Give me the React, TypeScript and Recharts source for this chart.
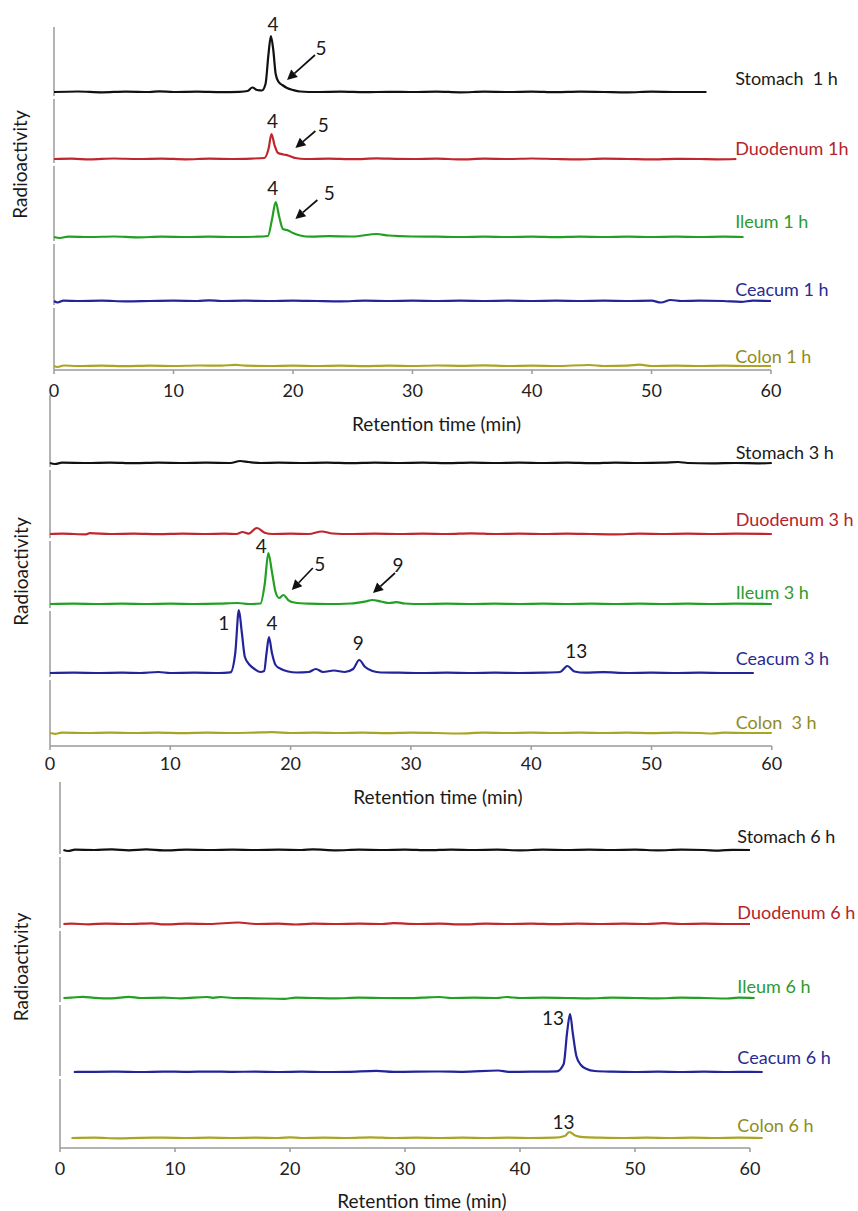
import { Line, LineChart, ReferenceDot, ReferenceLine, XAxis, YAxis } from "recharts";

type Pt = [number, number];

const timeTicks = [0, 10, 20, 30, 40, 50, 60];

// ---- 1 h (signal above each trace's own baseline) ----
const stomach1h: Pt[] = [[0,0],[2,0.5],[4,-0.3],[6,0.4],[8,0],[8.8,0.6],[10,0],[12,0.3],[14,-0.2],[15.5,0.2],[16.2,1],[16.6,4.5],[17,2],[17.4,1.5],[17.7,8],[17.95,38],[18.15,56],[18.35,42],[18.55,18],[18.8,10],[19.1,7],[19.5,4],[20,2],[20.6,0.5],[22,0],[24,0.3],[26,-0.2],[28,0.2],[30,0],[32,0.4],[34,-0.3],[36,0.3],[38,0],[40,0.4],[42,-0.2],[44,0.3],[46,0],[48,-0.3],[50,0.3],[52,0],[54.6,0]];
const duodenum1h: Pt[] = [[0,0],[1.5,0.3],[3,-0.4],[5,0.5],[7,0],[9,0.4],[11,-0.3],[13,0.3],[15,0],[16.5,0.4],[17.6,1],[17.95,10],[18.2,25],[18.45,14],[18.75,6],[19.2,4.5],[19.6,3.5],[20.2,1],[21,0],[23,0.4],[25,-0.2],[27,0.6],[28,0.3],[30,0],[32,0.4],[34,-0.4],[36,0.3],[38,0],[40,0.5],[42,0],[44,-0.3],[46,0.3],[48,0],[50,-0.4],[52,0.2],[54,0],[55.5,-0.3],[57.1,0]];
const ileum1h: Pt[] = [[0,0],[0.5,-1],[1.2,0.4],[3,0],[5,0.5],[7,-0.3],[9,0.3],[11,0],[13,0.4],[15,0],[17,0.3],[17.9,1],[18.25,18],[18.55,35],[18.85,20],[19.15,8],[19.6,6.5],[20,4],[20.6,1.5],[21.5,0.3],[23,0.8],[25,0.5],[27,3],[28,1.5],[30,0.5],[32,0.3],[34,0],[36,0.4],[38,0],[40,0.3],[42,-0.2],[44,0.3],[46,0],[48,0.4],[50,0],[52,0.3],[54,0],[56,0.4],[57.7,0]];
const ceacum1h: Pt[] = [[0,0],[0.3,-1.5],[0.8,0.3],[2,0],[4,0.3],[6,-0.3],[8,0],[10,0.3],[12,0],[13,0.6],[14,0],[16,0.3],[18,0],[20,0.4],[22,0],[24,-0.3],[26,0.3],[28,0],[30,0.3],[32,0],[34,0.3],[36,0],[38,0.3],[40,0],[42,0.3],[44,0],[46,0.3],[48,0],[50,0.3],[50.8,-1.5],[51.6,1],[52.5,0],[54,0.3],[56,0],[57.5,-0.8],[58.5,0.3],[60,0]];
const colon1h: Pt[] = [[0,0],[0.3,-1],[0.8,0.5],[2,0],[4,0.4],[6,-0.2],[8,0.3],[10,0],[12,0.5],[14,0.3],[15.2,1.2],[16,0.3],[18,0],[20,0.4],[22,0],[24,0.3],[26,-0.2],[28,0.3],[30,0],[32,0.5],[34,0.2],[36,0.6],[38,0],[40,0.3],[42,0],[44.8,1],[46,0],[48,0.3],[49,1.3],[50,0],[52,0.3],[54,0],[56,0.3],[58,0],[60,0]];

// ---- 3 h ----
const stomach3h: Pt[] = [[0,0],[0.4,-1],[1,0.3],[3,0],[5,0.4],[7,-0.2],[9,0.3],[11,0],[13,0.3],[15,0],[15.8,2],[16.5,1],[17.5,0],[19,0.3],[21,0],[23,0.3],[25,-0.2],[27,0.3],[29,0],[31,0.3],[33,-0.2],[35,0.3],[37,0],[39,0.4],[41,0],[43,0.3],[45,-0.2],[47,0.4],[49,0],[51,0.3],[52.2,1],[53,0],[55,-0.4],[57,0],[59,-0.3],[60,0]];
const duodenum3h: Pt[] = [[0,0],[1,0.3],[3,-0.3],[3.3,0.8],[5,0],[7,0.3],[9,-0.2],[11,0.3],[13,0],[14.5,0.3],[15.5,0],[16,2],[16.5,0.3],[17.2,6],[17.9,1],[18.5,0],[20,0.3],[21.5,0],[22.6,2.5],[23.5,0.5],[25,0],[27,0.3],[29,0],[31,0.4],[33,0],[35,0.6],[37,0],[39,0.3],[41,0],[43,0.4],[45,0],[47,-0.3],[49,0.3],[51,0],[53,0.3],[55,0],[57,0.3],[60,0]];
const ileum3h: Pt[] = [[0,0],[2,0.3],[4,0],[6,0.3],[8,0],[10,0.3],[12,0],[14,0.3],[15.6,1],[16.5,0],[17.5,0.5],[17.85,20],[18.15,51],[18.45,32],[18.75,12],[19.05,6],[19.4,9],[19.8,4],[20.3,1.5],[21.5,0.3],[23,0],[25,0.5],[26.2,2.5],[26.8,4],[27.5,2.5],[28.2,1],[28.8,1.8],[29.5,0.5],[31,0],[33,0.3],[35,0],[37,0.3],[39,0],[41,0.3],[43,0],[45,0.3],[47,0],[49,0.3],[51,0],[53,0.3],[55,0],[57,0.3],[60,0]];
const ceacum3h: Pt[] = [[0,0],[2,0.3],[4,0],[6,0.3],[7.5,0],[9,1],[10,0],[12,0.3],[14,0],[15,0.6],[15.4,20],[15.7,63],[15.95,40],[16.2,16],[16.6,8],[17,4],[17.5,1],[17.8,2],[18,20],[18.2,36],[18.45,20],[18.75,8],[19.2,4],[19.8,1.5],[20.5,0.5],[21.5,1],[22.1,4],[22.7,1],[23.6,2.5],[24.5,1],[25.2,4],[25.7,13],[26.2,6],[26.8,2],[27.5,0.5],[29,0.3],[31,0],[33,0.3],[35,0],[37,0.3],[39,0],[41,0.3],[42.4,1],[43,7],[43.6,1.5],[44.5,0.3],[46,0.8],[48,0],[50,0.3],[52,0],[54,0.3],[56,0],[58.5,0]];
const colon3h: Pt[] = [[0,0],[0.4,-0.8],[1,0.3],[3,0],[5,0.4],[7,0],[9,0.3],[11,-0.2],[13,0.3],[15,0],[17,0.4],[18.5,0.8],[20,0],[22,0.3],[24,0],[26,0.3],[28,-0.2],[30,0.3],[32,0],[34,-0.5],[36,0.3],[38,0],[40,0.4],[42,0],[44,0.3],[46,0],[48,0.3],[50,-0.2],[52,0.3],[54,0],[55,-0.5],[56,0.3],[58,0],[60,0]];

// ---- 6 h ----
const stomach6h: Pt[] = [[0.3,0],[0.7,-1],[1.3,0.3],[3,0],[4.5,0.6],[6,-0.3],[7.5,0.6],[9,-0.4],[11,0.3],[13,0],[15,0.4],[17,0],[19,0.3],[21,0],[22,0.6],[24,-0.3],[26,0.3],[28,0],[30,0.4],[32,-0.2],[34,0.4],[36,0],[38,0.3],[40,-0.3],[42,0.3],[44,0],[46,0.4],[48,0],[50,0.3],[52,-0.3],[54,0.3],[56,0],[57.3,-0.6],[58.5,0.2],[60,0]];
const duodenum6h: Pt[] = [[0.3,0],[1,0.3],[2.5,-0.3],[4,0.4],[6,0],[8,0.7],[9,-0.4],[11,0.3],[13,0],[15.5,1.5],[17,0],[19,0.3],[20.5,-0.5],[22,0.3],[24,0],[26,0.3],[28,0],[29,0.8],[31,0],[33,0.3],[35,-0.4],[37,0.3],[39,0],[41,0.3],[43,-0.2],[45,0.3],[47,0],[49,0.3],[51,0],[52.5,0.8],[54,0],[56,0.3],[58,0],[60,0]];
const ileum6h: Pt[] = [[0.3,0],[1,0.4],[2,1.2],[3,0.2],[4.5,-0.3],[6,1.2],[7,0],[9,0.3],[10.5,-0.3],[12.8,1],[13.3,0.2],[14,1],[15,0],[17,-0.3],[19.5,-0.8],[20.5,0.3],[22,0],[24,-0.3],[26,0.3],[28,0],[30,-0.2],[31.5,0.3],[33,1],[34,0],[36,0.3],[38,0],[38.8,1],[40,0],[42,0.3],[44,0],[46,-0.3],[48,0.3],[50,0],[52,-0.3],[54,0.3],[56,0],[58,-0.5],[59,0.3],[60.4,0]];
const ceacum6h: Pt[] = [[1.2,0],[3,0.2],[5,0.4],[7,0],[9,0.4],[11,0.2],[13,0.4],[15,0.2],[17,0.3],[19,0],[21,0.3],[23,0],[25,0.2],[27.5,1.2],[29,0.2],[31,0.3],[33,0.5],[35,0.2],[38.1,1.5],[39,0.2],[41,0.3],[43.2,0.6],[43.8,8],[44.1,40],[44.35,58],[44.6,38],[44.9,16],[45.3,7],[45.8,3],[46.5,1],[48,0.3],[50,0],[52,0.3],[54,0],[56,0.3],[58,0],[60,0.2],[61.1,0]];
const colon6h: Pt[] = [[1,0],[3,0.3],[5,-0.3],[7,0.2],[9,0.3],[11,0],[13,0.3],[15,0],[17,0.3],[19,0],[20,0.6],[21,0],[23,0.3],[25,0],[27,0.6],[29,0],[31,0.3],[33,0],[35,0.3],[37,0],[39,0.3],[41,0],[43,0.3],[43.9,2],[44.3,6],[44.8,2.5],[45.5,0.8],[47,0.3],[49,0],[51,0.3],[53,0],[55,0.3],[57,0],[59,0.3],[61.1,0]];

const labels1h = ["Stomach  1 h", "Duodenum 1h", "Ileum 1 h", "Ceacum 1 h", "Colon 1 h"];
const labels3h = ["Stomach 3 h", "Duodenum 3 h", "Ileum 3 h", "Ceacum 3 h", "Colon  3 h"];
const labels6h = ["Stomach 6 h", "Duodenum 6 h", "Ileum 6 h", "Ceacum 6 h", "Colon 6 h"];

// peak numbers: [trace, retention time, compound]
const peaks1h: [number, number, string][] = [[0, 18.15, "4"], [1, 18.2, "4"], [2, 18.55, "4"]];
const peaks3h: [number, number, string][] = [[2, 18.15, "4"], [3, 15.7, "1"], [3, 18.2, "4"], [3, 25.7, "9"], [3, 43, "13"]];
const peaks6h: [number, number, string][] = [[3, 44.35, "13"], [4, 44.3, "13"]];

// arrows: [trace, retention time of tip, compound]
const arrows1h: [number, number, string][] = [[0, 19.5, "5"], [1, 20.2, "5"], [2, 20.2, "5"]];
const arrows3h: [number, number, string][] = [[2, 20.1, "5"], [2, 26.85, "9"]];

const lineColors = ["#111111", "#c0262d", "#22a022", "#23239a", "#aaa425"];
const labelColors = ["#1a1a1a", "#b3242b", "#2e9a2e", "#2b2b8f", "#8f8c1c"];
const FONT = "Lato, 'Open Sans', sans-serif";

type PanelCfg = {
  series: Pt[][];
  labels: string[];
  peaks: [number, number, string][];
  peakOffsets: [number, number][];
  arrows: [number, number, string][];
  arrowLayout: [number, number, number, number, number][]; // lift, tail dx, tail dy, label dx, label dy
  chartTop: number;
  plotTop: number;
  plotBottom: number;
  left: number;
  pxPerMin: number;
  xMax: number;
  chartHeight: number;
  baselines: number[];
  labelT: number;
  labelLift: number[];
  radio: [number, number];
  title: [number, number];
  tickMargin: number;
};

const panels: PanelCfg[] = [
  {
    series: [stomach1h, duodenum1h, ileum1h, ceacum1h, colon1h],
    labels: labels1h,
    peaks: peaks1h,
    peakOffsets: [[2, -12], [1, -13], [-3, -14]],
    arrows: arrows1h,
    arrowLayout: [[12, 28, -25, 6, -7], [11, 20, -17, 8, -6], [18, 22, -19, 12, -7]],
    chartTop: 0, plotTop: 27, plotBottom: 370, left: 54, pxPerMin: 11.95, xMax: 60, chartHeight: 440,
    baselines: [278, 211, 133, 69, 4],
    labelT: 57.0,
    labelLift: [13, 10, 15, 11, 9],
    radio: [-7, -34],
    title: [24, 19],
    tickMargin: 10,
  },
  {
    series: [stomach3h, duodenum3h, ileum3h, ceacum3h, colon3h],
    labels: labels3h,
    peaks: peaks3h,
    peakOffsets: [[-7, -7], [-15, 13], [3, -14], [-1, -17], [9, -15]],
    arrows: arrows3h,
    arrowLayout: [[14, 21, -22, 7, -4], [11, 22, -20, 3, -8]],
    chartTop: 380, plotTop: 395, plotBottom: 746, left: 50, pxPerMin: 12.03, xMax: 60, chartHeight: 436,
    baselines: [283, 212, 142, 73, 13],
    labelT: 57.0,
    labelLift: [10, 14, 11, 14, 10],
    radio: [-4, 1],
    title: [27, 16],
    tickMargin: 7,
  },
  {
    series: [stomach6h, duodenum6h, ileum6h, ceacum6h, colon6h],
    labels: labels6h,
    peaks: peaks6h,
    peakOffsets: [[-17, 4], [-6, -10]],
    arrows: [],
    arrowLayout: [],
    chartTop: 765, plotTop: 782, plotBottom: 1148, left: 60, pxPerMin: 11.5, xMax: 61.2, chartHeight: 446,
    baselines: [298, 224, 150, 76, 10],
    labelT: 58.9,
    labelLift: [13, 11, 11, 14, 12],
    radio: [-9, 2],
    title: [10, 22],
    tickMargin: 10,
  },
];

const peakTop = (s: Pt[], t: number) =>
  Math.max(...s.filter(([x]) => Math.abs(x - t) <= 0.3).map(([, v]) => v));

const textShape = (text: string, fill: string, dx: number, dy: number, anchor: string, size: number) => (p: any) => (
  <text
    x={p.cx + dx}
    y={p.cy + dy}
    dy="0.35em"
    textAnchor={anchor}
    fill={fill}
    fontSize={size}
    fontFamily={FONT}
    style={{ whiteSpace: "pre" }}
  >
    {text}
  </text>
);

const arrowShape = (text: string, tx: number, ty: number, lx: number, ly: number) => (p: any) => {
  const { cx, cy } = p;
  const len = Math.hypot(tx, ty);
  const ux = tx / len;
  const uy = ty / len;
  const bx = cx + ux * 10;
  const by = cy + uy * 10;
  const w = 5;
  const pts = `${cx},${cy} ${bx - uy * w},${by + ux * w} ${bx + uy * w},${by - ux * w}`;
  return (
    <g>
      <line x1={bx} y1={by} x2={cx + tx} y2={cy + ty} stroke="#111" strokeWidth={1.7} />
      <polygon points={pts} fill="#111" />
      <text x={cx + tx + lx} y={cy + ty + ly} dy="0.35em" textAnchor="middle" fill="#1a1a1a" fontSize={19} fontFamily={FONT}>
        {text}
      </text>
    </g>
  );
};

const Panel = ({ cfg }: { cfg: PanelCfg }) => {
  const plotH = cfg.plotBottom - cfg.plotTop;
  const plotW = cfg.xMax * cfg.pxPerMin;
  const axisH = cfg.chartHeight - (cfg.plotBottom - cfg.chartTop);
  const right = 858 - cfg.left - plotW;
  const b = cfg.baselines;

  return (
    <div style={{ position: "absolute", left: 0, top: cfg.chartTop }}>
      <LineChart
        width={858}
        height={cfg.chartHeight}
        margin={{ top: cfg.plotTop - cfg.chartTop, right, bottom: 0, left: 0 }}
      >
        <XAxis
          type="number"
          dataKey="t"
          domain={[0, cfg.xMax]}
          ticks={timeTicks}
          height={axisH}
          axisLine={false}
          tickLine={{ stroke: "#9a9a9a", strokeWidth: 1.5 }}
          tickSize={4}
          tickMargin={cfg.tickMargin}
          tick={{ fontSize: 18, fill: "#222", fontFamily: FONT }}
          label={{
            value: "Retention time (min)",
            position: "center",
            dx: cfg.title[0],
            dy: cfg.title[1],
            fontSize: 19,
            fill: "#1a1a1a",
            fontFamily: FONT,
          }}
        />
        <YAxis
          type="number"
          domain={[0, plotH]}
          width={cfg.left}
          axisLine={false}
          tickLine={false}
          tick={false}
          label={{
            value: "Radioactivity",
            angle: -90,
            position: "center",
            dx: cfg.radio[0],
            dy: cfg.radio[1],
            fontSize: 19,
            fill: "#1a1a1a",
            fontFamily: FONT,
          }}
        />
        <ReferenceLine
          segment={[{ x: 0, y: 0 }, { x: 60, y: 0 }]}
          stroke="#9a9a9a"
          strokeWidth={1.5}
          ifOverflow="visible"
        />
        {b.map((base, i) => (
          <ReferenceLine
            key={`seg${i}`}
            segment={[
              { x: 0, y: i === 0 ? plotH : b[i - 1] - 7 },
              { x: 0, y: i === b.length - 1 ? 0 : base - 4 },
            ]}
            stroke="#9a9a9a"
            strokeWidth={1.5}
            ifOverflow="visible"
          />
        ))}
        {cfg.series.map((s, i) => (
          <Line
            key={cfg.labels[i]}
            data={s.map(([t, v]) => ({ t, v: v + b[i] }))}
            dataKey="v"
            type="monotone"
            stroke={lineColors[i]}
            strokeWidth={2.2}
            dot={false}
            activeDot={false}
            isAnimationActive={false}
          />
        ))}
        {cfg.labels.map((text, i) => (
          <ReferenceDot
            key={`lab${i}`}
            x={cfg.labelT}
            y={b[i] + cfg.labelLift[i]}
            ifOverflow="visible"
            shape={textShape(text, labelColors[i], 0, 0, "start", 18)}
          />
        ))}
        {cfg.peaks.map(([tr, t, text], i) => (
          <ReferenceDot
            key={`pk${i}`}
            x={t}
            y={b[tr] + peakTop(cfg.series[tr], t)}
            ifOverflow="visible"
            shape={textShape(text, "#1a1a1a", cfg.peakOffsets[i][0], cfg.peakOffsets[i][1], "middle", 19)}
          />
        ))}
        {cfg.arrows.map(([tr, t, text], i) => {
          const [lift, tx, ty, lx, ly] = cfg.arrowLayout[i];
          return (
            <ReferenceDot
              key={`ar${i}`}
              x={t}
              y={b[tr] + lift}
              ifOverflow="visible"
              shape={arrowShape(text, tx, ty, lx, ly)}
            />
          );
        })}
      </LineChart>
    </div>
  );
}

export default function App() {
  return (
    <div
      style={{
        position: "absolute",
        left: 0,
        top: 0,
        width: 858,
        height: 1211,
        background: "#fff",
        fontFamily: FONT,
        overflow: "hidden",
      }}
    >
      {panels.map((p, i) => (
        <Panel key={i} cfg={p} />
      ))}
    </div>
  );
}
